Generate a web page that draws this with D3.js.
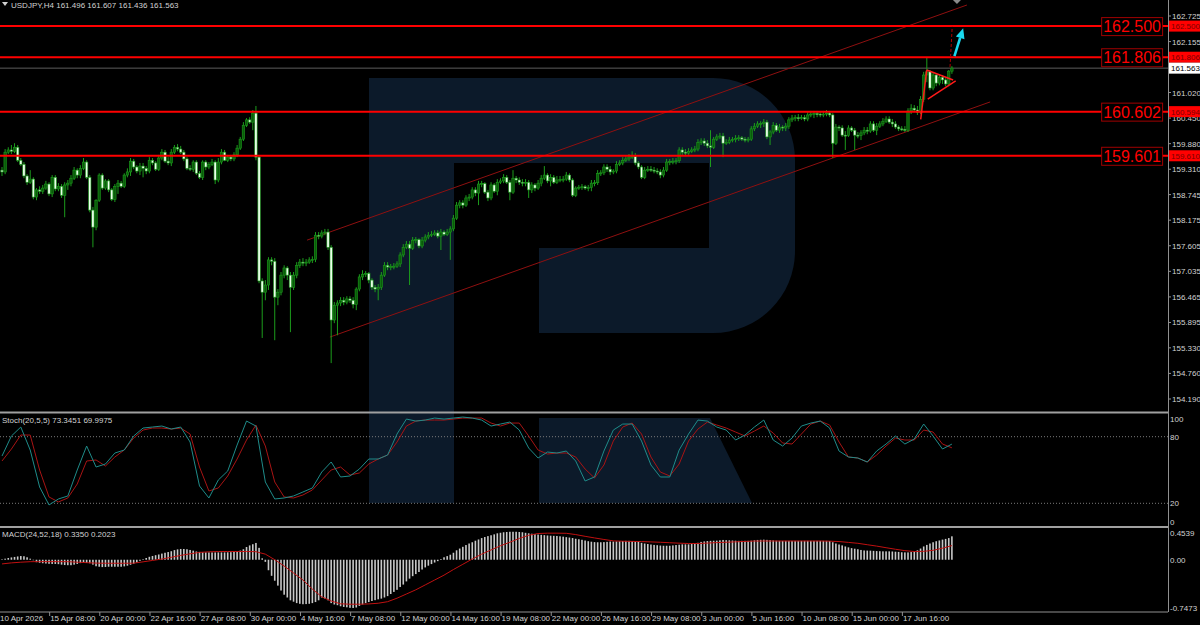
<!DOCTYPE html>
<html><head><meta charset="utf-8">
<script src="https://cdn.jsdelivr.net/npm/d3@7/dist/d3.min.js"></script>
<style>body{margin:0;background:#000}svg{display:block}text{font-family:"Liberation Sans",Arial,sans-serif}</style>
</head><body><svg id="c" width="1200" height="625"></svg>
<script>
// ---------- DATA (USDJPY H4) ----------
const open=[159.29,159.25,159.69,159.74,159.71,159.80,159.51,159.42,159.16,159.02,
159.09,158.69,158.85,158.82,158.89,158.98,158.76,159.13,158.87,158.93,
158.73,158.96,159.00,159.11,159.29,159.18,159.33,159.47,159.13,158.40,
158.02,158.62,159.18,158.89,159.05,158.85,158.64,158.93,159.00,158.93,
159.18,159.25,159.49,159.36,159.27,159.38,159.33,159.27,159.51,159.45,
159.31,159.56,159.69,159.49,159.45,159.69,159.80,159.76,159.69,159.54,
159.33,159.31,159.47,159.22,159.13,159.47,159.36,159.42,159.47,159.07,
159.47,159.69,159.51,159.58,159.54,159.63,159.78,159.98,160.29,160.41,
160.36,160.56,159.58,156.82,156.57,156.73,157.29,157.26,156.46,156.57,
156.95,157.11,156.95,156.68,156.95,157.17,157.24,157.22,157.24,157.29,
157.30,157.84,157.82,157.89,157.91,157.57,155.95,156.28,156.33,156.39,
156.35,156.42,156.39,156.30,156.64,156.91,156.97,156.99,156.84,156.68,
156.64,156.68,156.95,157.17,157.13,157.14,157.15,157.20,157.40,157.57,
157.64,157.55,157.73,157.74,157.60,157.73,157.80,157.84,157.86,157.89,
157.82,157.91,157.86,157.91,157.98,158.22,158.51,158.56,158.51,158.67,
158.69,158.85,158.78,158.98,158.99,158.80,158.67,158.96,158.82,159.02,
159.05,159.13,159.02,158.80,159.11,159.07,159.02,159.00,159.02,158.85,
158.96,158.89,159.00,159.11,159.18,159.05,159.13,159.02,159.07,159.08,
159.09,159.18,159.07,158.73,158.89,158.91,158.92,158.89,158.90,159.00,
159.01,159.22,159.23,159.36,159.31,159.25,159.27,159.42,159.45,159.51,
159.54,159.58,159.60,159.45,159.36,159.13,159.29,159.31,159.29,159.27,
159.25,159.18,159.29,159.47,159.48,159.49,159.50,159.74,159.69,159.67,
159.71,159.74,159.76,159.91,159.94,159.89,159.83,159.80,159.98,160.03,
160.05,159.89,159.91,159.96,159.97,160.00,160.01,159.98,159.96,159.98,
160.21,160.27,160.32,160.33,160.36,160.03,160.14,160.29,160.18,160.25,
160.23,160.27,160.41,160.45,160.46,160.45,160.46,160.43,160.52,160.54,
160.55,160.54,160.52,160.54,160.56,160.52,159.89,160.25,160.23,160.07,
160.06,160.23,160.18,160.07,160.06,160.12,160.18,160.16,160.32,160.18,
160.27,160.32,160.38,160.43,160.36,160.32,160.25,160.21,160.20,160.18,
160.61,160.67,160.63,160.58,160.87,161.41,161.48,161.12,161.41,161.23,
161.36,161.30,161.21,161.496];
const high=[159.36,159.76,159.80,159.85,159.89,159.85,159.56,159.47,159.20,159.29,
159.13,158.89,158.93,158.96,159.05,159.02,159.18,159.18,159.00,158.98,
159.02,159.07,159.18,159.36,159.33,159.40,159.56,159.51,159.18,158.47,
158.64,159.22,159.22,159.09,159.09,158.89,158.98,159.07,159.05,159.22,
159.33,159.56,159.54,159.40,159.45,159.45,159.38,159.58,159.56,159.49,
159.63,159.76,159.74,159.58,159.76,159.85,159.87,159.83,159.74,159.58,
159.40,159.51,159.51,159.27,159.51,159.51,159.47,159.54,159.51,159.56,
159.76,159.74,159.63,159.63,159.69,159.85,160.03,160.36,160.45,160.47,
160.63,160.72,159.63,156.88,156.84,157.35,157.35,157.33,156.64,157.02,
157.17,157.15,157.02,157.02,157.24,157.31,157.33,157.31,157.35,157.37,
157.91,157.91,157.95,157.98,157.98,157.62,156.35,156.39,156.46,156.46,
156.48,156.48,156.46,156.68,156.97,157.06,157.04,157.02,156.88,156.73,
156.75,157.02,157.24,157.24,157.20,157.22,157.26,157.46,157.64,157.71,
157.71,157.80,157.80,157.77,157.80,157.86,157.91,157.93,157.95,157.95,
157.98,157.95,157.98,158.04,158.29,158.58,158.62,158.62,158.73,158.76,
158.91,158.91,159.05,159.05,159.02,158.85,159.02,159.00,159.09,159.11,
159.20,159.18,159.07,159.29,159.16,159.13,159.09,159.09,159.07,159.02,
159.00,159.07,159.18,159.38,159.22,159.20,159.18,159.16,159.16,159.16,
159.25,159.22,159.11,158.93,158.96,158.98,158.96,158.96,159.07,159.07,
159.29,159.29,159.42,159.42,159.38,159.31,159.49,159.51,159.58,159.60,
159.65,159.71,159.67,159.49,159.40,159.36,159.38,159.38,159.36,159.33,
159.31,159.36,159.54,159.54,159.56,159.56,159.80,159.80,159.76,159.78,
159.80,159.83,159.98,160.00,160.00,159.96,160.18,160.03,160.09,160.12,
160.12,159.98,160.03,160.03,160.07,160.07,160.05,160.03,160.03,160.27,
160.34,160.38,160.38,160.43,160.41,160.18,160.36,160.34,160.32,160.29,
160.34,160.47,160.52,160.52,160.54,160.52,160.52,160.58,160.61,160.61,
160.61,160.58,160.61,160.63,160.61,160.56,160.32,160.29,160.29,160.16,
160.29,160.27,160.23,160.14,160.18,160.25,160.25,160.38,160.38,160.34,
160.38,160.45,160.49,160.49,160.43,160.38,160.29,160.27,160.27,160.67,
160.76,160.74,160.72,160.94,161.48,161.79,161.52,161.48,161.45,161.43,
161.41,161.34,161.52,161.607];
const low=[159.16,159.20,159.65,159.65,159.67,159.47,159.38,159.11,158.96,158.98,
158.64,158.62,158.76,158.76,158.85,158.71,158.69,158.82,158.82,158.67,
158.24,158.85,158.93,159.07,159.11,159.11,159.29,159.09,158.35,157.57,
157.95,158.58,158.85,158.85,158.80,158.60,158.58,158.76,158.89,158.89,
159.13,159.16,159.31,159.22,159.18,159.13,159.20,159.22,159.40,159.27,
159.27,159.51,159.45,159.40,159.38,159.65,159.71,159.65,159.49,159.29,
159.27,159.25,159.18,159.09,159.07,159.29,159.31,159.38,158.98,159.02,
159.42,159.49,159.47,159.49,159.49,159.58,159.74,159.94,160.25,160.32,
160.18,159.51,156.77,155.55,156.39,156.62,157.17,155.50,156.28,156.50,
156.88,156.84,155.68,156.62,156.88,157.11,157.15,157.15,157.20,157.22,
157.24,157.75,157.77,157.84,157.51,154.99,155.88,155.61,156.26,156.28,
156.30,156.33,156.21,156.17,156.59,156.84,156.91,156.77,156.62,156.57,
156.39,156.62,156.91,157.06,157.06,157.08,157.11,157.13,157.35,157.53,
156.73,157.51,157.66,157.55,157.55,157.68,157.75,157.80,157.82,157.77,
157.51,157.82,157.82,157.29,157.93,158.18,158.44,158.44,158.47,158.60,
158.64,158.71,158.51,158.91,158.76,158.60,158.62,158.78,158.73,158.98,
159.00,158.98,158.62,158.76,159.00,158.96,158.93,158.93,158.67,158.78,
158.82,158.85,158.93,159.07,159.00,158.93,158.98,158.98,159.02,159.02,
159.05,159.02,158.69,158.69,158.85,158.85,158.85,158.82,158.82,158.93,
158.96,159.16,159.18,159.25,159.18,159.20,159.22,159.38,159.40,159.47,
159.49,159.54,159.40,159.31,159.09,159.09,159.25,159.25,159.22,159.20,
159.11,159.13,159.25,159.40,159.42,159.42,159.45,159.63,159.60,159.63,
159.67,159.69,159.71,159.85,159.83,159.78,159.36,159.76,159.94,159.98,
159.58,159.85,159.87,159.91,159.91,159.94,159.94,159.91,159.91,159.94,
160.16,160.23,160.23,160.25,159.98,159.85,160.09,160.14,160.12,160.16,
160.16,160.21,160.36,160.38,160.38,160.41,160.38,160.38,160.47,160.45,
160.47,160.47,160.47,160.49,160.47,159.56,159.85,160.16,160.03,159.74,
160.03,160.14,159.74,160.00,159.96,160.07,160.09,160.12,160.14,160.07,
160.23,160.27,160.34,160.32,160.25,160.21,160.16,160.16,160.14,160.14,
160.54,160.58,160.52,160.54,160.81,161.25,161.07,161.07,161.16,161.18,
161.21,161.16,161.16,161.436];
const close=[159.25,159.69,159.74,159.71,159.80,159.51,159.42,159.16,159.02,159.09,
158.69,158.85,158.82,158.89,158.98,158.76,159.13,158.87,158.93,158.73,
158.96,159.00,159.11,159.29,159.18,159.33,159.47,159.13,158.40,158.02,
158.62,159.18,158.89,159.05,158.85,158.64,158.93,159.00,158.93,159.18,
159.25,159.49,159.36,159.27,159.38,159.33,159.27,159.51,159.45,159.31,
159.56,159.69,159.49,159.45,159.69,159.80,159.76,159.69,159.54,159.33,
159.31,159.47,159.22,159.13,159.47,159.36,159.42,159.47,159.07,159.47,
159.69,159.51,159.58,159.54,159.63,159.78,159.98,160.29,160.41,160.36,
160.56,159.58,156.82,156.57,156.73,157.29,157.26,156.46,156.57,156.95,
157.11,156.95,156.68,156.95,157.17,157.24,157.22,157.24,157.29,157.30,
157.84,157.82,157.89,157.91,157.57,155.95,156.28,156.33,156.39,156.35,
156.42,156.39,156.30,156.64,156.91,156.97,156.99,156.84,156.68,156.64,
156.68,156.95,157.17,157.13,157.14,157.15,157.20,157.40,157.57,157.64,
157.55,157.73,157.74,157.60,157.73,157.80,157.84,157.86,157.89,157.82,
157.91,157.86,157.91,157.98,158.22,158.51,158.56,158.51,158.67,158.69,
158.85,158.78,158.98,158.99,158.80,158.67,158.96,158.82,159.02,159.05,
159.13,159.02,158.80,159.11,159.07,159.02,159.00,159.02,158.85,158.96,
158.89,159.00,159.11,159.18,159.05,159.13,159.02,159.07,159.08,159.09,
159.18,159.07,158.73,158.89,158.91,158.92,158.89,158.90,159.00,159.01,
159.22,159.23,159.36,159.31,159.25,159.27,159.42,159.45,159.51,159.54,
159.58,159.60,159.45,159.36,159.13,159.29,159.31,159.29,159.27,159.25,
159.18,159.29,159.47,159.48,159.49,159.50,159.74,159.69,159.67,159.71,
159.74,159.76,159.91,159.94,159.89,159.83,159.80,159.98,160.03,160.05,
159.89,159.91,159.96,159.97,160.00,160.01,159.98,159.96,159.98,160.21,
160.27,160.32,160.33,160.36,160.03,160.14,160.29,160.18,160.25,160.23,
160.27,160.41,160.45,160.46,160.45,160.46,160.43,160.52,160.54,160.55,
160.54,160.52,160.54,160.56,160.52,159.89,160.25,160.23,160.07,160.06,
160.23,160.18,160.07,160.06,160.12,160.18,160.16,160.32,160.18,160.27,
160.32,160.38,160.43,160.36,160.32,160.25,160.21,160.20,160.18,160.61,
160.67,160.63,160.58,160.87,161.41,161.48,161.12,161.41,161.23,161.36,
161.30,161.21,161.496,161.563];

// Stochastic (20,5,5) sampled every 3 bars
const stochStep=3;
const stochK=[62.6,80.6,88.7,68.0,34.7,18.5,23.9,26.6,50.0,71.6,52.7,55.4,65.3,68.0,80.6,87.8,88.7,89.6,86.9,88.7,
75.2,35.6,24.8,41.0,49.1,72.5,94.1,89.6,39.2,23.9,24.8,26.6,30.2,33.8,48.2,57.2,43.7,44.6,50.9,59.9,
59.9,63.5,82.4,95.9,94.1,95.0,96.8,95.9,96.8,97.7,96.8,95.0,89.6,91.4,93.2,86.0,69.8,60.8,66.2,65.3,
67.1,58.1,40.1,43.7,67.1,86.0,91.4,91.4,76.1,54.5,43.7,43.7,68.0,82.4,95.0,94.1,88.7,86.0,77.0,81.5,
88.7,95.0,77.0,71.6,78.8,89.6,92.3,94.1,87.8,67.1,61.7,60.8,57.2,67.1,73.4,80.6,73.4,77.9,91.4,80.6,
68.9,73.3451];
const stochD=[58.1,68.9,81.5,81.5,50.0,25.7,21.2,24.8,37.4,58.1,59.0,53.6,61.7,68.0,78.8,86.0,87.8,87.8,86.9,87.8,
82.4,52.7,31.1,33.8,44.6,59.9,77.0,90.5,71.6,39.2,25.7,24.8,27.5,32.0,41.0,50.0,52.7,45.5,47.3,55.4,
59.9,63.5,75.2,89.6,94.1,95.0,95.0,95.0,95.9,96.8,96.8,96.8,92.3,89.6,92.3,92.3,80.6,68.0,64.4,65.3,
65.3,61.7,50.9,42.8,54.5,76.1,88.7,92.3,82.4,61.7,48.2,44.6,55.4,76.1,86.9,93.2,90.5,87.8,84.2,80.6,
85.1,89.6,83.3,74.3,73.4,82.4,91.4,94.1,90.5,75.2,61.7,60.8,57.2,63.5,71.6,78.8,77.0,77.0,86.0,84.2,
73.4,69.9975];
const stochLevels=[80,20];
const stochAxis=[100,80,20,0];

// MACD (24,52,18): histogram per bar, signal every 3 bars
const macdHist=[0.005,0.015,0.025,0.033,0.04,0.047,0.053,0.05,0.035,0.015,
-0.005,-0.035,-0.043,-0.05,-0.054,-0.058,-0.06,-0.06,-0.063,-0.07,
-0.076,-0.078,-0.078,-0.07,-0.06,-0.048,-0.04,-0.045,-0.05,-0.07,
-0.093,-0.1,-0.105,-0.103,-0.1,-0.1,-0.1,-0.1,-0.1,-0.095,
-0.085,-0.072,-0.057,-0.04,-0.015,0.008,0.025,0.042,0.054,0.065,
0.075,0.088,0.1,0.11,0.122,0.138,0.148,0.154,0.154,0.15,
0.14,0.13,0.118,0.112,0.107,0.106,0.105,0.105,0.105,0.105,
0.105,0.105,0.106,0.108,0.112,0.117,0.13,0.15,0.182,0.205,
0.222,0.24,0.17,0.02,-0.03,-0.15,-0.23,-0.3,-0.37,-0.44,
-0.5,-0.54,-0.58,-0.6,-0.62,-0.63,-0.636,-0.634,-0.63,-0.62,
-0.605,-0.58,-0.54,-0.555,-0.58,-0.62,-0.64,-0.65,-0.665,-0.675,
-0.68,-0.688,-0.69,-0.683,-0.66,-0.64,-0.62,-0.605,-0.59,-0.578,
-0.566,-0.556,-0.54,-0.52,-0.49,-0.46,-0.43,-0.39,-0.355,-0.31,
-0.27,-0.235,-0.205,-0.175,-0.14,-0.11,-0.085,-0.062,-0.04,-0.02,
0.01,0.035,0.052,0.072,0.1,0.135,0.16,0.185,0.21,0.232,
0.25,0.272,0.29,0.31,0.325,0.338,0.35,0.363,0.378,0.386,
0.393,0.397,0.4,0.4,0.4,0.397,0.393,0.385,0.378,0.372,
0.367,0.36,0.356,0.352,0.347,0.344,0.342,0.34,0.335,0.33,
0.323,0.317,0.31,0.3,0.293,0.285,0.275,0.265,0.258,0.252,
0.25,0.25,0.252,0.256,0.26,0.26,0.262,0.265,0.268,0.27,
0.27,0.268,0.264,0.255,0.242,0.232,0.225,0.218,0.212,0.208,
0.203,0.2,0.2,0.2,0.205,0.21,0.215,0.22,0.22,0.22,
0.225,0.232,0.242,0.255,0.262,0.267,0.27,0.272,0.273,0.278,
0.283,0.28,0.278,0.275,0.272,0.27,0.27,0.27,0.27,0.272,
0.278,0.283,0.285,0.287,0.284,0.28,0.276,0.272,0.27,0.27,
0.27,0.27,0.27,0.27,0.27,0.27,0.27,0.27,0.27,0.27,
0.27,0.27,0.27,0.27,0.268,0.25,0.232,0.218,0.205,0.19,
0.177,0.166,0.158,0.15,0.14,0.133,0.131,0.13,0.127,0.124,
0.122,0.12,0.12,0.12,0.118,0.115,0.112,0.107,0.105,0.105,
0.11,0.118,0.135,0.16,0.19,0.212,0.232,0.25,0.265,0.276,
0.288,0.298,0.31,0.335];
const macdStep=3;
const macdSignal=[-0.06,-0.045,-0.035,-0.028,-0.027,-0.027,-0.027,-0.028,-0.035,-0.042,
-0.048,-0.05,-0.05,-0.05,-0.049,-0.03,-0.01,0.01,0.035,0.062,
0.085,0.105,0.113,0.117,0.118,0.118,0.118,0.115,0.08,0.0,
-0.09,-0.19,-0.29,-0.42,-0.53,-0.59,-0.63,-0.636,-0.636,-0.632,
-0.622,-0.6,-0.55,-0.49,-0.43,-0.36,-0.29,-0.22,-0.14,-0.065,
0.01,0.08,0.14,0.2,0.25,0.305,0.35,0.375,0.38,0.38,
0.378,0.36,0.335,0.312,0.29,0.27,0.265,0.262,0.26,0.255,
0.25,0.243,0.237,0.232,0.232,0.238,0.245,0.25,0.256,0.262,
0.267,0.268,0.268,0.268,0.268,0.268,0.268,0.268,0.266,0.26,
0.248,0.235,0.215,0.195,0.172,0.15,0.13,0.118,0.12,0.135,
0.165,0.2023];
const macdAxis=[0.4539,0.00,-0.7473];

// axes
const priceTicks=[162.725,162.155,161.585,161.020,160.450,159.880,159.310,158.745,158.175,157.605,157.035,156.465,155.895,155.330,154.760,154.190];
const timeLabelStep=16;
const timeLabels=["10 Apr 2026","15 Apr 08:00","20 Apr 00:00","22 Apr 16:00","27 Apr 08:00","30 Apr 00:00","4 May 16:00","7 May 08:00","12 May 00:00","14 May 16:00","19 May 08:00","22 May 00:00","26 May 16:00","29 May 08:00","3 Jun 00:00","5 Jun 16:00","10 Jun 08:00","15 Jun 00:00","17 Jun 16:00"];

// drawn objects (bar index, price)
const levelPrices=[162.500,161.806,160.594,159.610];
const levelLabels=["162.500","161.806","160.602","159.601"];
const levelTags=["162.500","161.806","160.594","159.610"];
const lastPrice=161.563;
const header="USDJPY,H4 161.496 161.607 161.436 161.563";
const channelUpper=[[97.3,157.73],[307.8,162.97]];
const channelLower=[[104.6,155.57],[315.2,160.81]];
const flagpole=[[293.05,160.42],[294.96,161.52]];
const pennantTop=[[294.96,161.52],[303.4,161.30]];
const pennantBottom=[[295.3,160.87],[304.2,161.28]];
const projection=[[302.4,161.59],[303.1,162.49]];
const upArrow=[[303.8,161.83],[306.6,162.45]];

// ---------- LAYOUT ----------
const W=1200,H=625, plotR=1168;
const main={top:0,bottom:411}, stP={top:413,bottom:526}, mdP={top:528,bottom:611};
const x=d3.scaleLinear().domain([0,close.length-1]).range([2,951.9]);
const yP=d3.scaleLinear().domain([154.190,162.725]).range([399,16]);
const yS=d3.scaleLinear().domain([0,100]).range([525.5,414.5]);
const yM=d3.scaleLinear().domain([-0.7473,0.4539]).range([612,528]);

const svg=d3.select("#c");
svg.append("rect").attr("width",W).attr("height",H).attr("fill","#000");
const defs=svg.append("defs");
[["cm",main],["cs",stP],["cmd",mdP]].forEach(([id,p])=>{
  defs.append("clipPath").attr("id",id).append("rect").attr("x",0).attr("y",p.top).attr("width",plotR).attr("height",p.bottom-p.top);
});

// watermark logo
const wm="#0c1a2a";
svg.append("path").attr("fill",wm).attr("d","M369,78H713A82,82 0 0 1 795,160V251A82,82 0 0 1 713,333H539V248H709V163H454V503H369Z");
svg.append("path").attr("fill",wm).attr("d","M539,418H710L752,503H539Z");

// ---------- MAIN PANEL ----------
const gm=svg.append("g").attr("clip-path","url(#cm)");
gm.append("line").attr("x1",0).attr("x2",plotR).attr("y1",yP(lastPrice)).attr("y2",yP(lastPrice)).attr("stroke","#5c5c5c").attr("stroke-width",1);

const seg=(g,pts,color,w,dash)=>g.append("line")
  .attr("x1",x(pts[0][0])).attr("y1",yP(pts[0][1])).attr("x2",x(pts[1][0])).attr("y2",yP(pts[1][1]))
  .attr("stroke",color).attr("stroke-width",w).attr("stroke-dasharray",dash||null);
seg(gm,channelUpper,"#8e1010",1);
seg(gm,channelLower,"#8e1010",1);

const bars=close.map((c,i)=>({i,o:open[i],h:high[i],l:low[i],c}));
const wickC="#1c9c1c";
gm.selectAll("line.wick").data(bars).join("line").attr("class","wick")
  .attr("x1",d=>x(d.i)).attr("x2",d=>x(d.i)).attr("y1",d=>yP(d.h)).attr("y2",d=>yP(d.l))
  .attr("stroke",wickC).attr("stroke-width",1);
gm.selectAll("rect.body").data(bars).join("rect").attr("class","body")
  .attr("x",d=>x(d.i)-1.2).attr("width",2.4)
  .attr("y",d=>yP(Math.max(d.o,d.c)))
  .attr("height",d=>Math.max(1,Math.abs(yP(d.o)-yP(d.c))))
  .attr("fill",d=>d.c>=d.o?"#0a5c0a":"#eaffea")
  .attr("stroke",wickC).attr("stroke-width",0.6);

gm.selectAll("line.level").data(levelPrices).join("line").attr("class","level")
  .attr("x1",0).attr("x2",plotR).attr("y1",d=>yP(d)).attr("y2",d=>yP(d))
  .attr("stroke","#ff0000").attr("stroke-width",2);

// pennant / flag
seg(gm,flagpole,"#ff1a1a",1.5);
seg(gm,pennantTop,"#ff1a1a",1.5);
seg(gm,pennantBottom,"#ff1a1a",1.5);
seg(gm,projection,"#b00000",1,"3,2");
// cyan arrow
(function(){
  const x1=x(upArrow[0][0]),y1=yP(upArrow[0][1]),x2=x(upArrow[1][0]),y2=yP(upArrow[1][1]);
  const dx=x2-x1,dy=y2-y1,L=Math.hypot(dx,dy),ux=dx/L,uy=dy/L,px=-uy,py=ux;
  const hl=10,hw=4.5;
  const bx=x2-ux*hl,by=y2-uy*hl;
  gm.append("line").attr("x1",x1).attr("y1",y1).attr("x2",bx).attr("y2",by).attr("stroke","#19d8ee").attr("stroke-width",2.6);
  gm.append("path").attr("fill","#19d8ee").attr("d",`M${x2},${y2}L${bx+px*hw},${by+py*hw}L${bx-px*hw},${by-py*hw}Z`);
  const gx=x(304.6);
  gm.append("path").attr("fill","#8a8a8a").attr("d",`M${gx-4},0L${gx+4},0L${gx},4Z`);
})();

// level labels (boxes)
levelPrices.forEach((p,k)=>{
  const g=svg.append("g");
  const r=g.append("rect").attr("fill","#000").attr("stroke","#a00000").attr("stroke-width",1);
  const t=g.append("text").attr("x",1161).attr("y",yP(p)+6).attr("text-anchor","end")
    .attr("font-size",16).attr("fill","#ff0000").text(levelLabels[k]);
  const b=t.node().getBBox();
  r.attr("x",b.x-1.5).attr("y",b.y-0.5).attr("width",b.width+3).attr("height",b.height+1);
});

// ---------- STOCH PANEL ----------
const gs=svg.append("g").attr("clip-path","url(#cs)");
gs.selectAll("line.lv").data(stochLevels).join("line")
  .attr("x1",0).attr("x2",plotR).attr("y1",d=>yS(d)).attr("y2",d=>yS(d))
  .attr("stroke","#7a7a7a").attr("stroke-dasharray","1,2");
const lineS=d3.line().x((d,k)=>x(k*stochStep)).y(d=>yS(d));
gs.append("path").attr("d",lineS(stochD)).attr("fill","none").attr("stroke","#a81414").attr("stroke-width",1);
gs.append("path").attr("d",lineS(stochK)).attr("fill","none").attr("stroke","#1f8c8a").attr("stroke-width",1);

// ---------- MACD PANEL ----------
const gd=svg.append("g").attr("clip-path","url(#cmd)");
gd.selectAll("rect.h").data(macdHist).join("rect")
  .attr("x",(d,i)=>x(i)-0.8).attr("width",1.6)
  .attr("y",d=>Math.min(yM(0),yM(d))).attr("height",d=>Math.max(0.5,Math.abs(yM(d)-yM(0))))
  .attr("fill","#c8c8c8");
const lineM=d3.line().x((d,k)=>x(k*macdStep)).y(d=>yM(d));
gd.append("path").attr("d",lineM(macdSignal)).attr("fill","none").attr("stroke","#c01010").attr("stroke-width",1);

// ---------- FRAMES ----------
const grey="#a0a0a0";
svg.append("line").attr("x1",0).attr("x2",plotR).attr("y1",412.5).attr("y2",412.5).attr("stroke",grey).attr("stroke-width",2);
svg.append("line").attr("x1",0).attr("x2",plotR).attr("y1",527).attr("y2",527).attr("stroke",grey).attr("stroke-width",2);
svg.append("line").attr("x1",0).attr("x2",plotR).attr("y1",612).attr("y2",612).attr("stroke","#909090").attr("stroke-width",1);
svg.append("line").attr("x1",plotR+0.5).attr("x2",plotR+0.5).attr("y1",0).attr("y2",612).attr("stroke","#909090").attr("stroke-width",1);

// ---------- AXES ----------
const axC="#d2d2d2", fs=8;
const ga=svg.append("g");
ga.selectAll("line.pt").data(priceTicks).join("line")
  .attr("x1",plotR).attr("x2",plotR+3).attr("y1",d=>yP(d)).attr("y2",d=>yP(d)).attr("stroke","#909090");
ga.selectAll("text.pt").data(priceTicks).join("text")
  .attr("x",1172).attr("y",d=>yP(d)+3).attr("font-size",fs).attr("fill",axC).text(d=>d.toFixed(3));
ga.selectAll("text.st").data(stochAxis).join("text")
  .attr("x",1170).attr("y",d=>Math.min(522,Math.max(419,yS(d)))+3).attr("font-size",fs).attr("fill",axC).text(d=>d);
ga.selectAll("text.md").data(macdAxis).join("text")
  .attr("x",1170).attr("y",d=>Math.min(608,Math.max(533,yM(d)))+3).attr("font-size",fs).attr("fill",axC)
  .text(d=>d===0?"0.00":d.toFixed(4));

// price tags
levelPrices.forEach((p,k)=>{
  ga.append("rect").attr("x",1169).attr("y",yP(p)-5.5).attr("width",31).attr("height",11).attr("fill","#ff0000");
  ga.append("text").attr("x",1171).attr("y",yP(p)+3).attr("font-size",fs).attr("fill","#7a0000").text(levelTags[k]);
});
ga.append("rect").attr("x",1169).attr("y",yP(lastPrice)-5.5).attr("width",31).attr("height",11).attr("fill","#ffffff");
ga.append("text").attr("x",1171).attr("y",yP(lastPrice)+3).attr("font-size",fs).attr("fill","#000").text(lastPrice.toFixed(3));

// time axis
ga.selectAll("line.tt").data(timeLabels).join("line")
  .attr("x1",(d,k)=>x(k*timeLabelStep)-2.5).attr("x2",(d,k)=>x(k*timeLabelStep)-2.5)
  .attr("y1",612).attr("y2",616).attr("stroke","#909090");
ga.selectAll("text.tt").data(timeLabels).join("text")
  .attr("x",(d,k)=>x(k*timeLabelStep)-2).attr("y",621).attr("font-size",fs).attr("fill",axC).text(d=>d);

// headers
svg.append("path").attr("d","M2,2L8,2L5,6Z").attr("fill","#d0d0d0");
svg.append("text").attr("x",11).attr("y",8).attr("font-size",fs).attr("fill",axC).text(header);
svg.append("text").attr("x",2).attr("y",423).attr("font-size",fs).attr("fill",axC)
  .text(`Stoch(20,5,5) ${stochK[stochK.length-1].toFixed(4)} ${stochD[stochD.length-1].toFixed(4)}`);
svg.append("text").attr("x",2).attr("y",537).attr("font-size",fs).attr("fill",axC)
  .text(`MACD(24,52,18) ${macdHist[macdHist.length-1].toFixed(4)} ${macdSignal[macdSignal.length-1].toFixed(4)}`);
</script></body></html>
